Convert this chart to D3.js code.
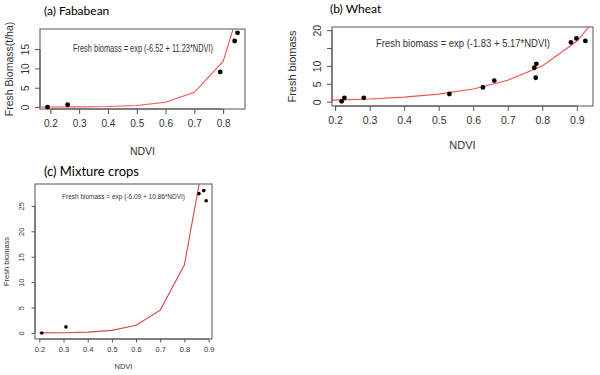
<!DOCTYPE html>
<html>
<head>
<meta charset="utf-8">
<script src="https://cdn.jsdelivr.net/npm/d3@7.9.0/dist/d3.min.js"></script>
<style>
  body { margin: 0; background: #fff; }
  svg { display: block; }
  .tick text { fill: #333; }
</style>
</head>
<body>
<div id="chart"></div>
<script>
// DATA
// (a) Fababean
const fabaNdvi = [0.19, 0.26, 0.79, 0.84, 0.85];
const fabaBiomass = [0.0, 0.6, 9.1, 17.1, 19.2];
const fabaFitNdvi = [0.1, 0.2, 0.3, 0.4, 0.5, 0.6, 0.7, 0.8, 0.9];
const fabaFitBiomass = [0.0045, 0.014, 0.043, 0.13, 0.40, 1.24, 3.8, 11.8, 36.0];

// (b) Wheat
const wheatNdvi = [0.219, 0.227, 0.283, 0.531, 0.628, 0.661, 0.777, 0.783, 0.781, 0.883, 0.899, 0.925];
const wheatBiomass = [0.1, 1.1, 1.1, 2.15, 4.0, 5.9, 9.5, 10.6, 6.7, 16.6, 17.7, 17.0];
const wheatFitNdvi = [0.1, 0.2, 0.3, 0.4, 0.5, 0.6, 0.7, 0.8, 0.9, 1.0];
const wheatFitBiomass = [0.27, 0.45, 0.76, 1.27, 2.13, 3.57, 5.99, 10.0, 16.9, 28.3];

// (c) Mixture crops
const mixNdvi = [0.21, 0.31, 0.86, 0.88, 0.89];
const mixBiomass = [0.0, 1.2, 27.4, 28.0, 26.0];
const mixFitNdvi = [0.2, 0.3, 0.4, 0.5, 0.6, 0.7, 0.8, 0.9];
const mixFitBiomass = [0.02, 0.06, 0.18, 0.52, 1.53, 4.5, 13.4, 39.6];

const xTicks = [0.2, 0.3, 0.4, 0.5, 0.6, 0.7, 0.8, 0.9];

const svg = d3.select('#chart')
  .append('svg')
  .attr('width', 600)
  .attr('height', 375);

svg.append('rect').attr('width', 600).attr('height', 375).attr('fill', '#fff');

function drawPanel(p) {
  const g = svg.append('g');

  const x = d3.scaleLinear().domain(p.xDomain).range([p.left, p.right]);
  const y = d3.scaleLinear().domain(p.yDomain).range([p.bottom, p.top]);

  const clipId = 'clip-' + p.id;
  g.append('clipPath').attr('id', clipId)
    .append('rect')
    .attr('x', p.left).attr('y', p.top)
    .attr('width', p.right - p.left).attr('height', p.bottom - p.top);

  // axes
  const xa = g.append('g')
    .attr('transform', `translate(0,${p.bottom})`)
    .call(d3.axisBottom(x).tickValues(p.xTicks).tickSize(p.tick).tickPadding(p.xPad)
      .tickFormat(d3.format('.1f')));
  xa.selectAll('line').attr('stroke', '#555');
  xa.selectAll('text').style('font', `${p.tickFont}px "Liberation Sans", Arial, sans-serif`);
  xa.select('.domain').attr('stroke', '#555')
    .attr('d', `M${x(p.xTicks[0])},0H${x(p.xTicks[p.xTicks.length - 1])}`);

  const ya = g.append('g')
    .attr('transform', `translate(${p.left},0)`)
    .call(d3.axisLeft(y).tickValues(p.yTicks).tickSize(p.tick).tickPadding(0)
      .tickFormat(d => p.yLabels.includes(d) ? d : ''));
  ya.select('.domain').attr('d', `M0,${y(p.yTicks[0])}V${y(p.yTicks[p.yTicks.length - 1])}`)
    .attr('stroke', '#555');
  ya.selectAll('line').attr('stroke', '#555');
  ya.selectAll('text')
    .attr('x', null).attr('dy', null)
    .attr('text-anchor', 'middle')
    .attr('transform', `translate(${-p.yPad},0) rotate(-90)`)
    .style('font', `${p.tickFont}px "Liberation Sans", Arial, sans-serif`);

  // box
  g.append('rect')
    .attr('x', p.left).attr('y', p.top)
    .attr('width', p.right - p.left).attr('height', p.bottom - p.top)
    .attr('fill', 'none').attr('stroke', '#555').attr('stroke-width', 1);

  // fitted curve
  const line = d3.line().x(d => x(d[0])).y(d => y(d[1]));
  g.append('path')
    .datum(d3.zip(p.fitX, p.fitY))
    .attr('clip-path', `url(#${clipId})`)
    .attr('fill', 'none')
    .attr('stroke', p.lineColor)
    .attr('stroke-width', 1.1)
    .attr('d', line);

  // observed points
  g.selectAll('circle.pt')
    .data(d3.zip(p.ptX, p.ptY))
    .join('circle')
    .attr('class', 'pt')
    .attr('cx', d => x(d[0]))
    .attr('cy', d => y(d[1]))
    .attr('r', p.ptR)
    .attr('fill', '#000');

  // equation (condensed face in the original, squeezed to its width)
  g.append('text')
    .attr('x', p.eqX).attr('y', p.eqY)
    .attr('dominant-baseline', 'middle')
    .attr('textLength', p.eqW)
    .attr('lengthAdjust', 'spacingAndGlyphs')
    .style('font', `${p.eqFont}px "Liberation Sans", Arial, sans-serif`)
    .attr('fill', '#333')
    .text(p.equation);

  // titles
  g.append('text')
    .attr('x', p.titleX).attr('y', p.titleY)
    .attr('dominant-baseline', 'middle')
    .style('font', `${p.titleFont}px Lato, "Open Sans", sans-serif`)
    .attr('fill', '#000')
    .text(p.title);

  g.append('text')
    .attr('x', (p.left + p.right) / 2).attr('y', p.xTitleY)
    .attr('text-anchor', 'middle')
    .attr('dominant-baseline', 'middle')
    .style('font', `${p.labFont}px "Liberation Sans", Arial, sans-serif`)
    .attr('fill', '#333')
    .text('NDVI');

  g.append('text')
    .attr('transform', `translate(${p.yTitleX},${(p.top + p.bottom) / 2}) rotate(-90)`)
    .attr('text-anchor', 'middle')
    .attr('dominant-baseline', 'middle')
    .style('font', `${p.labFont}px "Liberation Sans", Arial, sans-serif`)
    .attr('fill', '#333')
    .text(p.yTitle);
}

drawPanel({
  id: 'a', title: '(a) Fababean', yTitle: 'Fresh Biomass(t/ha)',
  equation: 'Fresh biomass = exp (-6.52  + 11.23*NDVI)',
  left: 40, right: 245, top: 29, bottom: 109,
  xDomain: [0.164, 0.876], yDomain: [-0.5, 20.2],
  xTicks: xTicks.slice(0, 7), yTicks: [0, 5, 10, 15], yLabels: [0, 5, 10, 15],
  ptX: fabaNdvi, ptY: fabaBiomass, fitX: fabaFitNdvi, fitY: fabaFitBiomass,
  lineColor: '#ff5050', ptR: 2.4, tick: 5, xPad: 6, yPad: 11,
  tickFont: 10, labFont: 10.5, eqFont: 10.5, eqW: 140, titleFont: 12,
  eqX: 73, eqY: 49, titleX: 44, titleY: 12, xTitleY: 152, yTitleX: 10
});

drawPanel({
  id: 'b', title: '(b) Wheat', yTitle: 'Fresh biomass',
  equation: 'Fresh biomass = exp (-1.83 + 5.17*NDVI)',
  left: 332, right: 593, top: 27, bottom: 106,
  xDomain: [0.191, 0.947], yDomain: [-1.2, 20.9],
  xTicks: xTicks, yTicks: [0, 5, 10, 15, 20], yLabels: [0, 5, 10, 20],
  ptX: wheatNdvi, ptY: wheatBiomass, fitX: wheatFitNdvi, fitY: wheatFitBiomass,
  lineColor: '#ff5050', ptR: 2.4, tick: 5, xPad: 6, yPad: 11,
  tickFont: 10.5, labFont: 11, eqFont: 11, eqW: 174, titleFont: 12,
  eqX: 376, eqY: 44, titleX: 330, titleY: 10, xTitleY: 146, yTitleX: 293
});

drawPanel({
  id: 'c', title: '(c) Mixture crops', yTitle: 'Fresh biomass',
  equation: 'Fresh biomass = exp (-6.09 + 10.86*NDVI)',
  left: 35, right: 212, top: 184, bottom: 339,
  xDomain: [0.182, 0.914], yDomain: [-1.18, 29.3],
  xTicks: xTicks, yTicks: [0, 5, 10, 15, 20, 25], yLabels: [0, 5, 10, 15, 20, 25],
  ptX: mixNdvi, ptY: mixBiomass, fitX: mixFitNdvi, fitY: mixFitBiomass,
  lineColor: '#d04848', ptR: 1.8, tick: 3.5, xPad: 4, yPad: 11,
  tickFont: 7.5, labFont: 7.5, eqFont: 8, eqW: 123, titleFont: 13,
  eqX: 62, eqY: 197, titleX: 44, titleY: 173, xTitleY: 367, yTitleX: 7
});
</script>
</body>
</html>
